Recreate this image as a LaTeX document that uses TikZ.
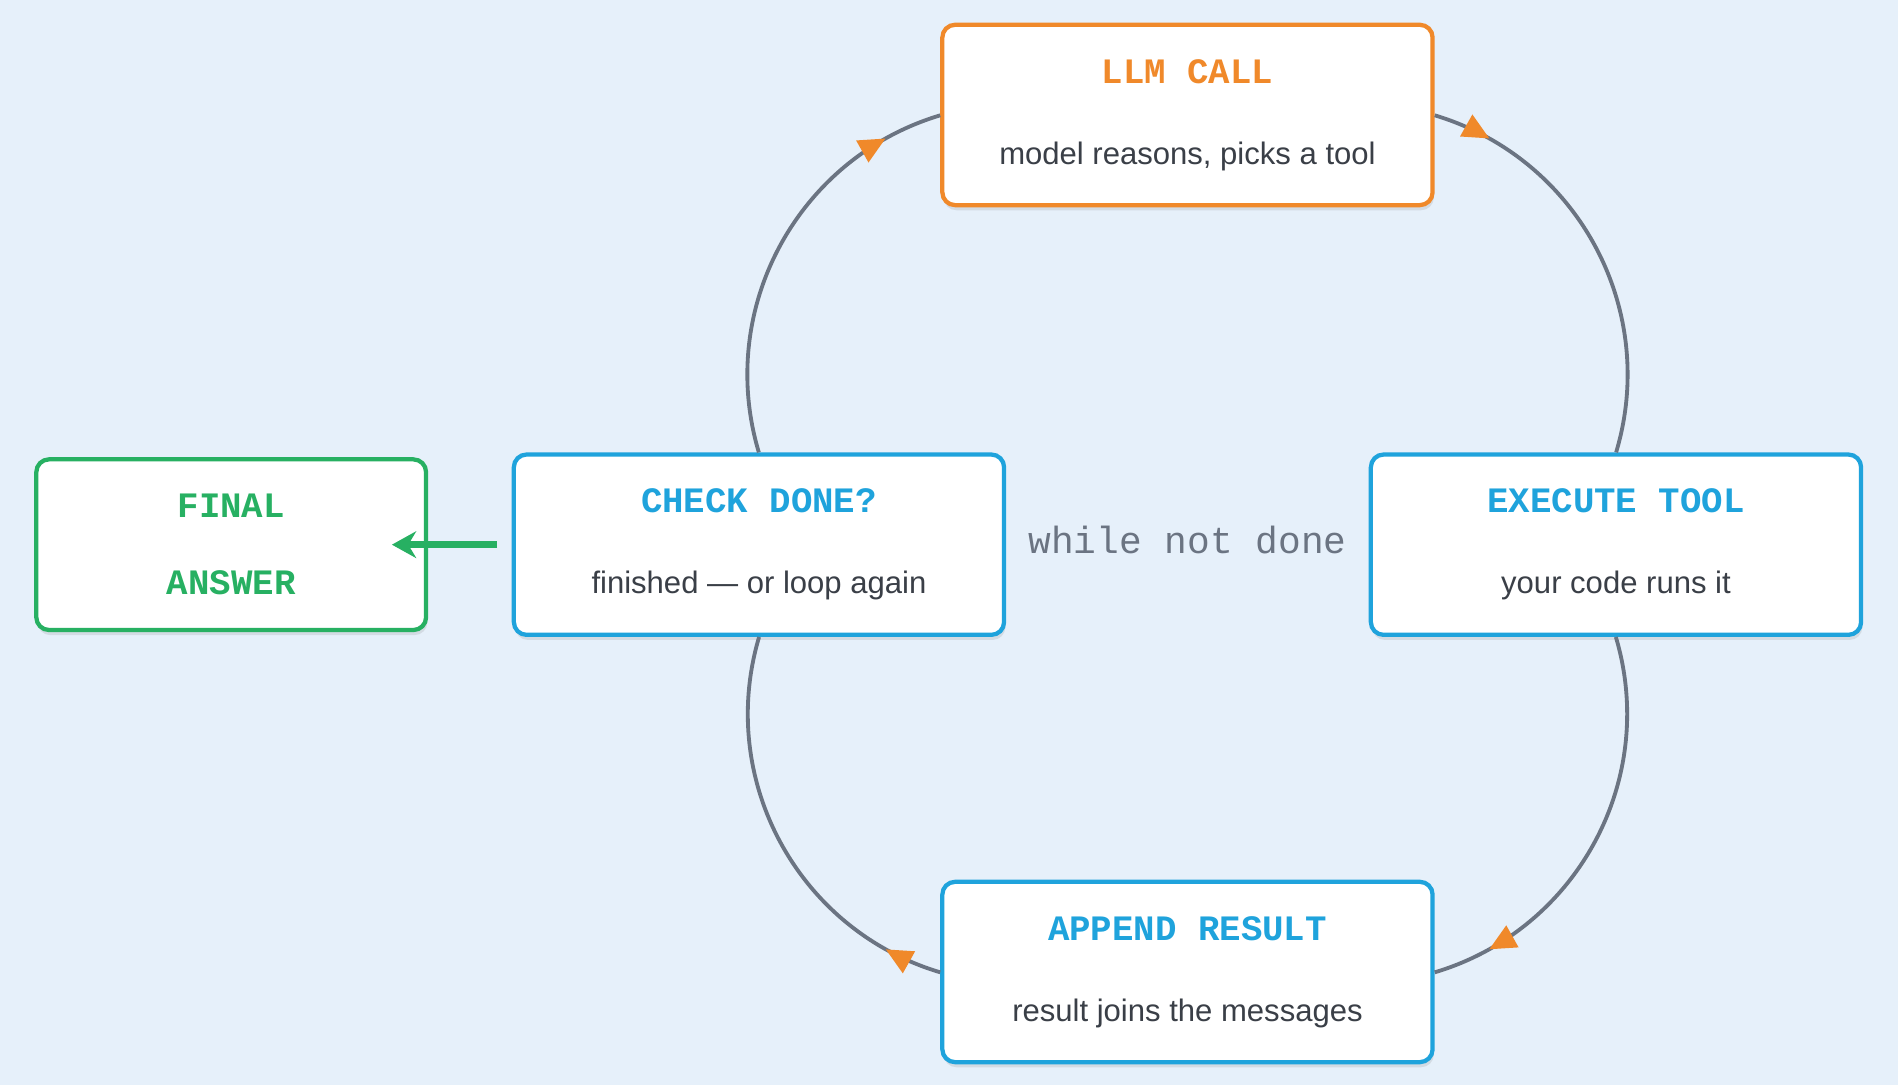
\documentclass[tikz,border=0pt]{standalone}
\usepackage{fontspec}
\setmainfont{Liberation Sans}
\newfontfamily\monofont{Liberation Mono}
\usetikzlibrary{arrows.meta, positioning, decorations.markings, shadows}

\definecolor{bgblue}{HTML}{E6F0FA}
\definecolor{llmorange}{HTML}{F0892A}
\definecolor{stepblue}{HTML}{1FA3DC}
\definecolor{donegreen}{HTML}{27B062}
\definecolor{loopgray}{HTML}{6B7482}
\definecolor{bodytext}{HTML}{3A3F47}

\newcommand{\steptitle}[1]{{\monofont\bfseries\fontsize{8.4}{10}\selectfont #1}}
\newcommand{\stepbody}[1]{{\color{bodytext}\fontsize{7.3}{9}\selectfont #1}}

\tikzset{
    stepbox/.style={draw, line width=1pt, fill=white, rounded corners=3pt, align=center,
        minimum width=4.05cm, minimum height=1.49cm, inner sep=0pt,
        drop shadow={shadow xshift=0.3pt, shadow yshift=-1.2pt, opacity=0.18}},
    looparc/.style={draw=loopgray, line width=0.9pt,
        postaction={decorate, decoration={markings,
            mark=at position #1 with {\arrow[llmorange]{Triangle[length=2.2mm, width=2mm]}}}}}
}

\begin{document}
\begin{tikzpicture}
    % Background
    \fill[bgblue] (0,0) rectangle (15.68,8.96);
    \useasboundingbox (0,0) rectangle (15.68,8.96);

    % Loop steps
    \node[stepbox, draw=llmorange] (llm) at (9.81,8.01)
        {\steptitle{\color{llmorange}LLM CALL}\\[7pt]\stepbody{model reasons, picks a tool}};
    \node[stepbox, draw=stepblue] (exec) at (13.35,4.46)
        {\steptitle{\color{stepblue}EXECUTE TOOL}\\[7pt]\stepbody{your code runs it}};
    \node[stepbox, draw=stepblue] (append) at (9.81,0.93)
        {\steptitle{\color{stepblue}APPEND RESULT}\\[7pt]\stepbody{result joins the messages}};
    \node[stepbox, draw=stepblue] (check) at (6.27,4.46)
        {\steptitle{\color{stepblue}CHECK DONE?}\\[7pt]\stepbody{finished --- or loop again}};

    % Exit
    \node[stepbox, draw=donegreen, minimum width=3.22cm, minimum height=1.41cm] (final) at (1.91,4.46)
        {\steptitle{\color{donegreen}FINAL}\\[6pt]\steptitle{\color{donegreen}ANSWER}};

    % Loop label
    \node[text=loopgray] (while) at (9.81,4.5)
        {\monofont\fontsize{8.9}{10}\selectfont while not done};

    % Loop arcs
    \path[looparc=0.14] (llm) to[bend left=45] (exec);
    \path[looparc=0.86] (exec) to[bend left=45] (append);
    \path[looparc=0.14] (append) to[bend left=45] (check);
    \path[looparc=0.86] (check) to[bend left=45] (llm);

    % Exit arrow
    \draw[-{Stealth[length=2mm, width=2.2mm]}, donegreen, line width=1.5pt]
        ([xshift=-0.12cm]check.west) -- ([xshift=-0.3cm]final.east);
\end{tikzpicture}
\end{document}
